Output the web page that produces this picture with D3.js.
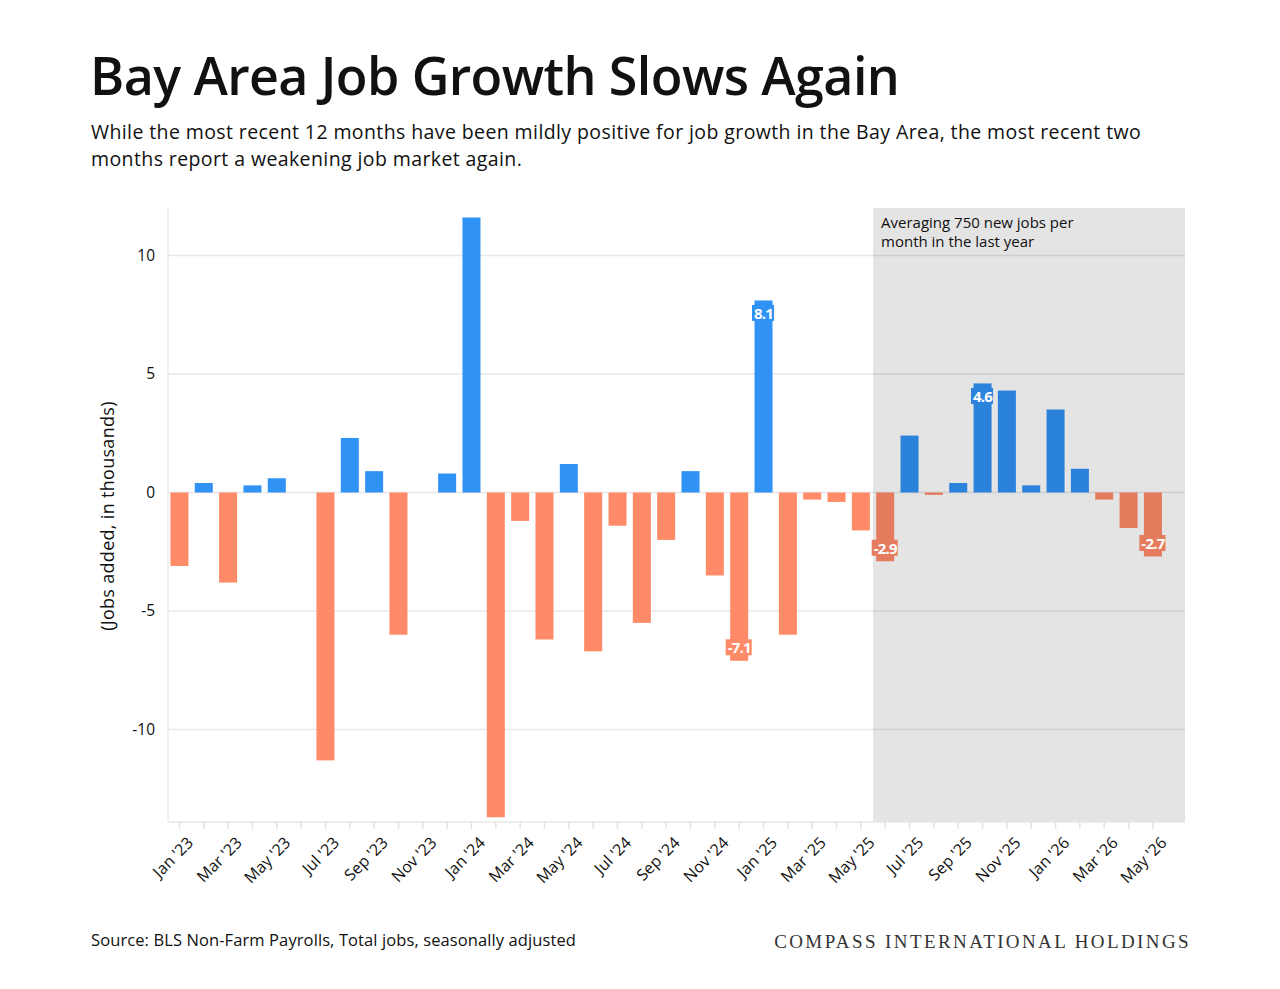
<!DOCTYPE html>
<html>
<head>
<meta charset="utf-8">
<script src="https://cdn.jsdelivr.net/npm/d3@7"></script>
<style>
  body { margin: 0; background: #fff; }
  svg { display: block; font-family: "Open Sans", Lato, sans-serif; }
</style>
</head>
<body>
<svg id="chart" width="1280" height="989"></svg>
<script>
// monthly change in Bay Area non-farm payrolls (thousands)
var months = [
  "Jan '23","Feb '23","Mar '23","Apr '23","May '23","Jun '23","Jul '23","Aug '23","Sep '23","Oct '23","Nov '23","Dec '23",
  "Jan '24","Feb '24","Mar '24","Apr '24","May '24","Jun '24","Jul '24","Aug '24","Sep '24","Oct '24","Nov '24","Dec '24",
  "Jan '25","Feb '25","Mar '25","Apr '25","May '25","Jun '25","Jul '25","Aug '25","Sep '25","Oct '25","Nov '25","Dec '25",
  "Jan '26","Feb '26","Mar '26","Apr '26","May '26"
];
var jobs = [
  -3.1, 0.4, -3.8, 0.3, 0.6, 0, -11.3, 2.3, 0.9, -6.0, 0, 0.8,
  11.6, -13.7, -1.2, -6.2, 1.2, -6.7, -1.4, -5.5, -2.0, 0.9, -3.5, -7.1,
  8.1, -6.0, -0.3, -0.4, -1.6, -2.9, 2.4, -0.1, 0.4, 4.6, 4.3, 0.3,
  3.5, 1.0, -0.3, -1.5, -2.7
];
var yTicks = [-10, -5, 0, 5, 10];
var labelled = ["Dec '24", "Jan '25", "Jun '25", "Oct '25", "May '26"];
var shadeStart = "Jun '25";
var note = ["Averaging 750 new jobs per", "month in the last year"];

var data = months.map((m, i) => ({month: m, value: jobs[i]}));

var svg = d3.select("#chart");
var plotL = 168, plotR = 1185, plotT = 208, plotB = 822;
var step = (plotR - plotL) / 41.85;

var x = d3.scaleBand()
  .domain(months)
  .range([plotL, plotL + step * months.length])
  .paddingInner(0.26)
  .paddingOuter(0.1);

var y = d3.scaleLinear()
  .domain([-13.9, 12])
  .range([plotB, plotT]);

var blue = "#3192f5", orange = "#ff8a68";

// title block
svg.append("text").attr("x", 90).attr("y", 95)
  .attr("font-size", 52).attr("font-weight", 600).attr("fill", "#111")
  .attr("letter-spacing", -0.6)
  .text("Bay Area Job Growth Slows Again");
svg.append("g").selectAll("text")
  .data([
    "While the most recent 12 months have been mildly positive for job growth in the Bay Area, the most recent two",
    "months report a weakening job market again."
  ])
  .join("text")
  .attr("x", 91).attr("y", (d, i) => 139 + i * 27)
  .attr("font-size", 19.5).attr("font-weight", 500).attr("fill", "#111")
  .attr("letter-spacing", 0.4)
  .text(d => d);

// grid
svg.append("g").selectAll("line")
  .data(yTicks)
  .join("line")
  .attr("x1", plotL).attr("x2", plotR)
  .attr("y1", d => y(d)).attr("y2", d => y(d))
  .attr("stroke", "#e8e8e8").attr("stroke-width", 1.5);

svg.append("line")
  .attr("x1", plotL).attr("x2", plotL).attr("y1", plotT).attr("y2", plotB)
  .attr("stroke", "#ebebeb").attr("stroke-width", 1.5);

// y axis
var yAxis = svg.append("g")
  .attr("transform", `translate(${plotL},0)`)
  .call(d3.axisLeft(y).tickValues(yTicks).tickSize(0).tickPadding(13)
    .tickFormat(d => String(d)));
yAxis.select(".domain").remove();
yAxis.selectAll("text").attr("font-size", 15.5).attr("fill", "#111")
  .style("font-family", "'Open Sans', Lato, sans-serif");

svg.append("text")
  .attr("transform", `translate(114,${(plotT + plotB) / 2 + 1}) rotate(-90)`)
  .attr("text-anchor", "middle").attr("font-size", 18).attr("font-weight", 500)
  .attr("fill", "#111").attr("letter-spacing", 0.3)
  .text("(Jobs added, in thousands)");

// bars
svg.append("g").selectAll("rect")
  .data(data)
  .join("rect")
  .attr("x", d => x(d.month))
  .attr("width", x.bandwidth())
  .attr("y", d => y(Math.max(0, d.value)))
  .attr("height", d => Math.abs(y(d.value) - y(0)))
  .attr("fill", d => d.value >= 0 ? blue : orange);

// last-year shading drawn over the bars
var shadeX = x(shadeStart) - x.step() * x.paddingInner() / 2;
svg.append("rect")
  .attr("x", shadeX).attr("y", plotT)
  .attr("width", plotR - shadeX).attr("height", plotB - plotT)
  .attr("fill", "#000").attr("opacity", 0.105);

svg.append("g").selectAll("text")
  .data(note)
  .join("text")
  .attr("x", shadeX + 8).attr("y", (d, i) => 228 + i * 19)
  .attr("font-size", 15).attr("font-weight", 500).attr("fill", "#111")
  .text(d => d);

// value labels
var lab = svg.append("g").selectAll("g")
  .data(data.filter(d => labelled.includes(d.month)))
  .join("g")
  .attr("transform", d => {
    var cx = x(d.month) + x.bandwidth() / 2;
    var cy = d.value >= 0 ? y(d.value) + 13 : y(d.value) - 13;
    return `translate(${cx},${cy})`;
  });
lab.append("rect")
  .attr("y", -8.5).attr("height", 16)
  .attr("fill", d => {
    var c = d.value >= 0 ? blue : orange;
    return months.indexOf(d.month) >= months.indexOf(shadeStart) ? d3.color(c).darker(0.3) : c;
  });
var labText = lab.append("text")
  .attr("text-anchor", "middle").attr("dy", 5.5)
  .attr("font-size", 15).attr("font-weight", 700).attr("fill", "#fff")
  .attr("letter-spacing", -0.8)
  .text(d => d.value);
labText.each(function() {
  var w = this.getComputedTextLength();
  d3.select(this.previousSibling).attr("x", -w / 2 - 2).attr("width", w + 3);
});

// x axis
svg.append("line")
  .attr("x1", plotL).attr("x2", plotR).attr("y1", plotB).attr("y2", plotB)
  .attr("stroke", "#e8e8e8").attr("stroke-width", 1.5);
var xAxis = svg.append("g")
  .attr("transform", `translate(0,${plotB})`)
  .call(d3.axisBottom(x).tickSize(7).tickPadding(4)
    .tickFormat((d, i) => i % 2 === 0 ? d : ""));
xAxis.select(".domain").remove();
xAxis.selectAll("line").attr("stroke", "#e3e3e3").attr("stroke-width", 1.5);
xAxis.selectAll("text")
  .attr("font-size", 16).attr("font-weight", 500).attr("fill", "#111")
  .style("font-family", "'Open Sans', Lato, sans-serif")
  .attr("text-anchor", "end")
  .attr("transform", "translate(-1,6) rotate(-45)");

// footer
svg.append("text").attr("x", 91).attr("y", 946)
  .attr("font-size", 16.5).attr("font-weight", 500).attr("fill", "#111")
  .attr("letter-spacing", 0.1)
  .text("Source: BLS Non-Farm Payrolls, Total jobs, seasonally adjusted");
svg.append("text").attr("x", 1191).attr("y", 948)
  .attr("text-anchor", "end")
  .attr("font-family", "'Liberation Serif', serif").attr("font-size", 19)
  .attr("letter-spacing", 2.4).attr("fill", "#333")
  .text("COMPASS INTERNATIONAL HOLDINGS");
</script>
</body>
</html>
